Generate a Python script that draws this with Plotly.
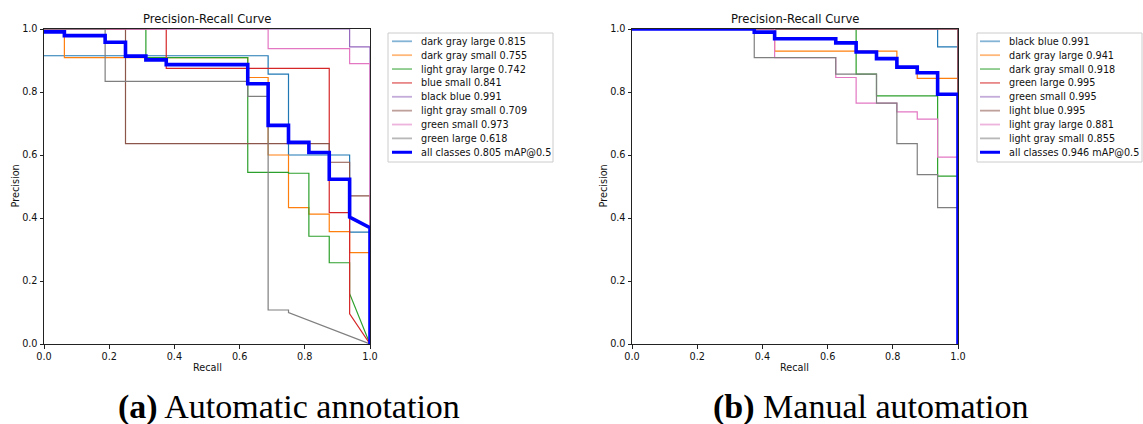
import plotly.graph_objects as go

W, H = 1143, 424

# ---------------- data: (a) Automatic annotation ----------------
a_classes = ["dark gray large", "dark gray small", "light gray large", "blue small",
             "black blue", "light gray small", "green small", "green large"]
a_ap = [0.815, 0.755, 0.742, 0.841, 0.991, 0.709, 0.973, 0.618]
a_map = 0.805
# recall break points of each precision step
a_recall = [
    [0, 0.6875, 0.75, 0.9375, 1.0],
    [0, 0.0625, 0.625, 0.6875, 0.75, 0.8125, 0.875, 0.9375, 1.0],
    [0, 0.3125, 0.625, 0.75, 0.8125, 0.875, 0.9375],
    [0, 0.375, 0.875, 0.9375],
    [0, 0.9375, 1.0],
    [0, 0.25, 0.875, 0.9375, 1.0],
    [0, 0.6875, 0.9375, 1.0],
    [0, 0.1875, 0.625, 0.6875, 0.75],
]
a_precision = [
    [0.915, 0.857, 0.600, 0.355],
    [1.0, 0.909, 0.846, 0.600, 0.433, 0.412, 0.357, 0.290],
    [1.0, 0.909, 0.545, 0.542, 0.342, 0.258],
    [1.0, 0.875, 0.417],
    [1.0, 0.943],
    [1.0, 0.636, 0.577, 0.470],
    [1.0, 0.938, 0.890],
    [1.0, 0.834, 0.786, 0.108],
]
# precision where the final segment towards recall 1.0 starts
a_tail = [0.355, 0.290, 0.160, 0.096, 0.943, 0.470, 0.890, 0.100]
a_all_recall = [0, 0.0625, 0.1875, 0.25, 0.3125, 0.375, 0.625, 0.6875, 0.75, 0.8125, 0.875, 0.9375]
a_all_precision = [0.991, 0.979, 0.958, 0.914, 0.902, 0.887, 0.826, 0.694, 0.640, 0.608, 0.523]
a_all_tail = [0.403, 0.369]

# ---------------- data: (b) Manual automation ----------------
b_classes = ["black blue", "dark gray large", "dark gray small", "green large",
             "green small", "light blue", "light gray large", "light gray small"]
b_ap = [0.991, 0.941, 0.918, 0.995, 0.995, 0.995, 0.881, 0.855]
b_map = 0.946
b_recall = [
    [0, 0.9375, 1.0],
    [0, 0.4375, 0.8125, 0.875, 1.0],
    [0, 0.6875, 0.75, 0.9375, 1.0],
    [0, 1.0],
    [0, 1.0],
    [0, 1.0],
    [0, 0.4375, 0.625, 0.6875, 0.8125, 0.875, 0.9375, 1.0],
    [0, 0.375, 0.625, 0.75, 0.8125, 0.875, 0.9375, 1.0],
]
b_precision = [
    [1.0, 0.943],
    [1.0, 0.930, 0.875, 0.843],
    [1.0, 0.857, 0.788, 0.533],
    [1.0],
    [1.0],
    [1.0],
    [1.0, 0.909, 0.846, 0.765, 0.737, 0.714, 0.593],
    [1.0, 0.909, 0.857, 0.765, 0.636, 0.538, 0.433],
]
b_tail = [0.943, 0.843, 0.533, 1.0, 1.0, 1.0, 0.593, 0.433]
b_all_recall = [0, 0.375, 0.4375, 0.625, 0.6875, 0.75, 0.8125, 0.875, 0.9375, 1.0]
b_all_precision = [1.0, 0.990, 0.969, 0.956, 0.927, 0.906, 0.879, 0.861, 0.793]
b_all_tail = [0.793, 0.793]

captions = ["<b>(a)</b> Automatic annotation", "<b>(b)</b> Manual automation"]
tab10 = ["#1f77b4", "#ff7f0e", "#2ca02c", "#d62728", "#9467bd", "#8c564b", "#e377c2", "#7f7f7f"]
ALL_COLOR = "#0000ff"
FONT = "DejaVu Sans"


def px_x(p):
    return p / W


def px_y(p):
    return 1 - p / H


def step_path(rec, prec, tail_start, tail_end=0.0):
    xs, ys = [], []
    for i, p in enumerate(prec):
        xs += [rec[i], rec[i + 1]]
        ys += [p, p]
    xs += [rec[-1], 1.0, 1.0]
    ys += [tail_start, tail_end, 0.0]
    return xs, ys


fig = go.Figure()
shapes, annotations = [], []

panels = [
    dict(xa="x", ya="y", classes=a_classes, ap=a_ap, mAP=a_map, rec=a_recall, prec=a_precision,
         tail=a_tail, all_rec=a_all_recall, all_prec=a_all_precision, all_tail=a_all_tail,
         px0=44, px1=370, leg=(388, 553), handle=(392, 412), text_x=419.3, cap_x=288.5),
    dict(xa="x2", ya="y2", classes=b_classes, ap=b_ap, mAP=b_map, rec=b_recall, prec=b_precision,
         tail=b_tail, all_rec=b_all_recall, all_prec=b_all_precision, all_tail=b_all_tail,
         px0=632, px1=958, leg=(977, 1142), handle=(980, 1000), text_x=1007.3, cap_x=870),
]
PY0, PY1 = 29, 344  # top / bottom of plot areas in pixels

for k, pn in enumerate(panels):
    for i, name in enumerate(pn["classes"]):
        xs, ys = step_path(pn["rec"][i], pn["prec"][i], pn["tail"][i])
        fig.add_trace(go.Scatter(x=xs, y=ys, mode="lines", xaxis=pn["xa"], yaxis=pn["ya"],
                                 line=dict(color=tab10[i], width=1.2), showlegend=False,
                                 name=f"{name} {pn['ap'][i]:.3f}", hoverinfo="skip"))
    xs, ys = step_path(pn["all_rec"], pn["all_prec"], pn["all_tail"][0], pn["all_tail"][1])
    fig.add_trace(go.Scatter(x=xs, y=ys, mode="lines", xaxis=pn["xa"], yaxis=pn["ya"],
                             line=dict(color=ALL_COLOR, width=3.6), showlegend=False,
                             name=f"all classes {pn['mAP']:.3f} mAP@0.5", hoverinfo="skip"))

    cx = (pn["px0"] + pn["px1"]) / 2
    # title
    annotations.append(dict(text="Precision-Recall Curve", x=px_x(cx), y=px_y(19.3), xref="paper", yref="paper",
                            xanchor="center", yanchor="middle", showarrow=False,
                            font=dict(family=FONT, size=11.6, color="#111")))
    # axis labels
    annotations.append(dict(text="Recall", x=px_x(cx), y=px_y(367), xref="paper", yref="paper",
                            xanchor="center", yanchor="middle", showarrow=False,
                            font=dict(family=FONT, size=9.7, color="#111")))
    annotations.append(dict(text="Precision", x=px_x(pn["px0"] - 29), y=px_y((PY0 + PY1) / 2), xref="paper",
                            yref="paper", xanchor="center", yanchor="middle", showarrow=False, textangle=-90,
                            font=dict(family=FONT, size=9.7, color="#111")))
    # caption
    annotations.append(dict(text=captions[k], x=px_x(pn["cap_x"]), y=px_y(406.5), xref="paper", yref="paper",
                            xanchor="center", yanchor="middle", showarrow=False,
                            font=dict(family="Liberation Serif", size=34, color="#000")))

    # legend box
    lx0, lx1 = pn["leg"]
    shapes.append(dict(type="rect", xref="paper", yref="paper", x0=px_x(lx0), x1=px_x(lx1),
                       y0=px_y(162), y1=px_y(33), line=dict(color="#cccccc", width=1),
                       fillcolor="rgba(255,255,255,0.8)", layer="above"))
    labels = [f"{n} {a:.3f}" for n, a in zip(pn["classes"], pn["ap"])] + [f"all classes {pn['mAP']:.3f} mAP@0.5"]
    colors = tab10 + [ALL_COLOR]
    for j, lab in enumerate(labels):
        ey = 41.3 + j * 13.87
        is_all = j == len(labels) - 1
        shapes.append(dict(type="line", xref="paper", yref="paper", x0=px_x(pn["handle"][0]),
                           x1=px_x(pn["handle"][1]), y0=px_y(ey), y1=px_y(ey),
                           line=dict(color=colors[j], width=3 if is_all else 1.8),
                           opacity=1 if is_all else 0.55, layer="above"))
        annotations.append(dict(text=lab, x=px_x(pn["text_x"]), y=px_y(ey), xref="paper", yref="paper",
                                xanchor="left", yanchor="middle", showarrow=False,
                                font=dict(family=FONT, size=9.7, color="#111")))

axis_common = dict(range=[0, 1], showgrid=False, zeroline=False, showline=True, mirror=True,
                   linecolor="#222", linewidth=1, ticks="outside", ticklen=3.5, tickwidth=0.8,
                   tickcolor="#222", tickvals=[0, 0.2, 0.4, 0.6, 0.8, 1.0], tickformat=".1f",
                   tickfont=dict(family=FONT, size=9.7, color="#111"), fixedrange=True,
                   automargin=False)
ydom = [px_y(PY1), px_y(PY0)]
fig.update_layout(
    width=W, height=H, autosize=False,
    margin=dict(l=0, r=0, t=0, b=0, autoexpand=False),
    paper_bgcolor="white", plot_bgcolor="white",
    xaxis=dict(axis_common, domain=[px_x(44), px_x(370)], anchor="y"),
    yaxis=dict(axis_common, domain=ydom, anchor="x"),
    xaxis2=dict(axis_common, domain=[px_x(632), px_x(958)], anchor="y2"),
    yaxis2=dict(axis_common, domain=ydom, anchor="x2"),
    shapes=shapes, annotations=annotations, showlegend=False,
)

# remove the browser's default 8px page margin so the figure sits at the window origin
fig.write_html("out.html", config={"displayModeBar": False},
               post_script="document.body.style.margin='0';document.body.style.overflow='hidden';")
